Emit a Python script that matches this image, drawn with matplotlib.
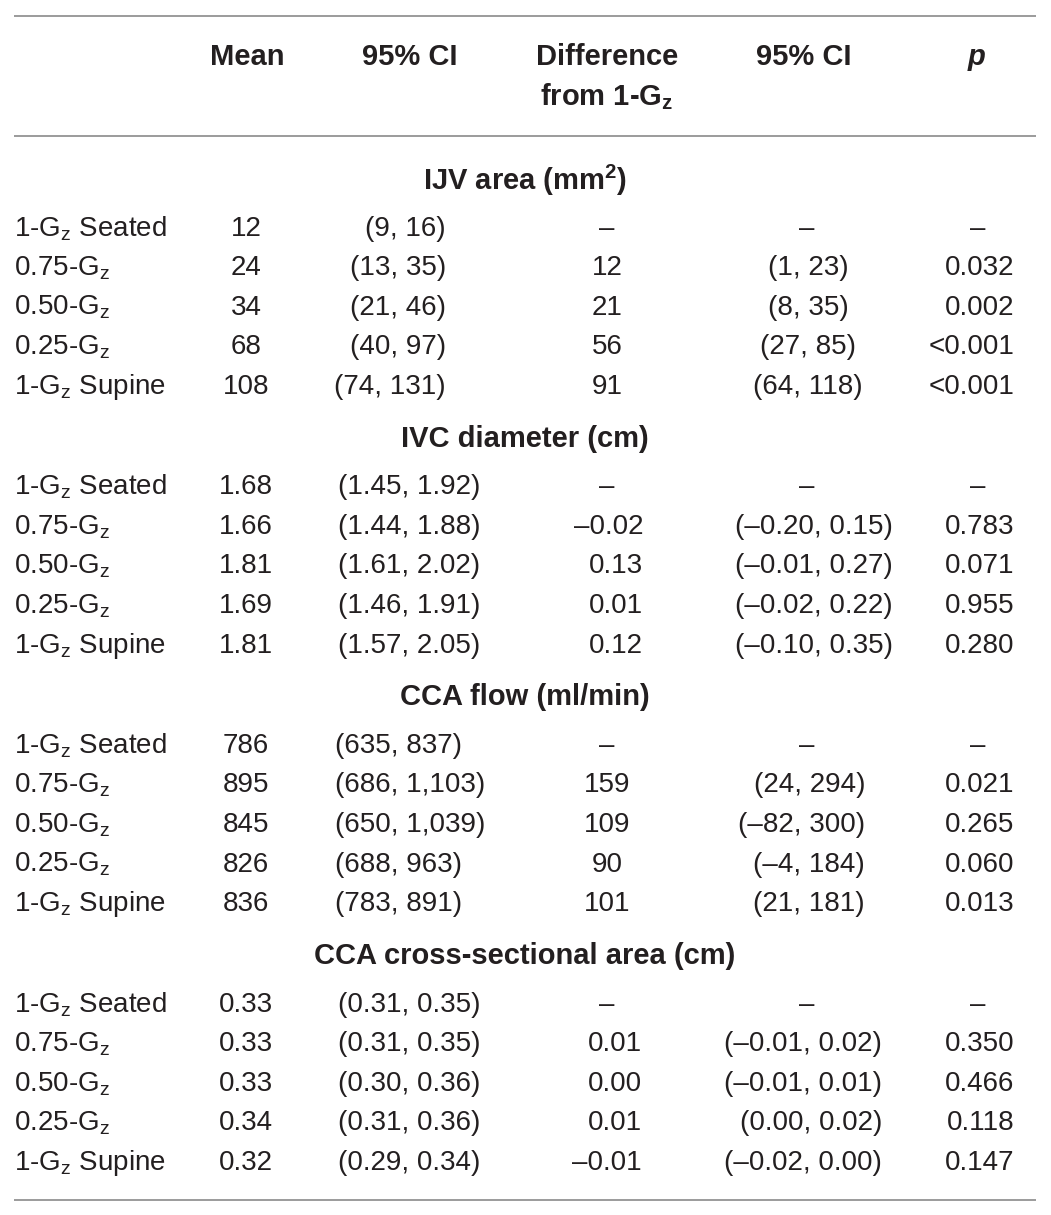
import matplotlib
matplotlib.use("Agg")
import matplotlib.pyplot as plt

plt.rcParams['font.family'] = ['Liberation Sans', 'DejaVu Sans']
plt.rcParams['mathtext.fontset'] = 'custom'
plt.rcParams['mathtext.rm'] = 'Liberation Sans'
plt.rcParams['mathtext.it'] = 'Liberation Sans:italic'
plt.rcParams['mathtext.bf'] = 'Liberation Sans:bold'

# ---------------- data ----------------
headers = ["Mean", "95% CI", "Difference\nfrom 1-G$_\\mathregular{z}$", "95% CI", "p"]
row_labels = ["1-G$_\\mathregular{z}$ Seated", "0.75-G$_\\mathregular{z}$", "0.50-G$_\\mathregular{z}$",
              "0.25-G$_\\mathregular{z}$", "1-G$_\\mathregular{z}$ Supine"]
sections = ["IJV area (mm$^\\mathregular{2}$)", "IVC diameter (cm)", "CCA flow (ml/min)",
            "CCA cross-sectional area (cm)"]

ijv_mean = ["12", "24", "34", "68", "108"]
ijv_ci = ["(9, 16)", "(13, 35)", "(21, 46)", "(40, 97)", "(74, 131)"]
ijv_diff = ["–", "12", "21", "56", "91"]
ijv_dci = ["–", "(1, 23)", "(8, 35)", "(27, 85)", "(64, 118)"]
ijv_p = ["–", "0.032", "0.002", "<0.001", "<0.001"]

ivc_mean = ["1.68", "1.66", "1.81", "1.69", "1.81"]
ivc_ci = ["(1.45, 1.92)", "(1.44, 1.88)", "(1.61, 2.02)", "(1.46, 1.91)", "(1.57, 2.05)"]
ivc_diff = ["–", "–0.02", "0.13", "0.01", "0.12"]
ivc_dci = ["–", "(–0.20, 0.15)", "(–0.01, 0.27)", "(–0.02, 0.22)", "(–0.10, 0.35)"]
ivc_p = ["–", "0.783", "0.071", "0.955", "0.280"]

flow_mean = ["786", "895", "845", "826", "836"]
flow_ci = ["(635, 837)", "(686, 1,103)", "(650, 1,039)", "(688, 963)", "(783, 891)"]
flow_diff = ["–", "159", "109", "90", "101"]
flow_dci = ["–", "(24, 294)", "(–82, 300)", "(–4, 184)", "(21, 181)"]
flow_p = ["–", "0.021", "0.265", "0.060", "0.013"]

csa_mean = ["0.33", "0.33", "0.33", "0.34", "0.32"]
csa_ci = ["(0.31, 0.35)", "(0.31, 0.35)", "(0.30, 0.36)", "(0.31, 0.36)", "(0.29, 0.34)"]
csa_diff = ["–", "0.01", "0.00", "0.01", "–0.01"]
csa_dci = ["–", "(–0.01, 0.02)", "(–0.01, 0.01)", "(0.00, 0.02)", "(–0.02, 0.00)"]
csa_p = ["–", "0.350", "0.466", "0.118", "0.147"]

section_data = [
    [ijv_mean, ijv_ci, ijv_diff, ijv_dci, ijv_p],
    [ivc_mean, ivc_ci, ivc_diff, ivc_dci, ivc_p],
    [flow_mean, flow_ci, flow_diff, flow_dci, flow_p],
    [csa_mean, csa_ci, csa_diff, csa_dci, csa_p],
]

# ---------------- layout / style ----------------
W, H = 1051, 1215
fig = plt.figure(figsize=(W / 100, H / 100), dpi=100)
ax = fig.add_axes([0, 0, 1, 1])
ax.set_xlim(0, W)
ax.set_ylim(H, 0)
ax.axis('off')

TXT = '#231f20'
LINE = '#808080'
FS = 20
FSB = 21
x0, x1 = 14, 1036

# per section column alignment: (x, ha)
col_align = [
    [(246, 'center'), (446, 'right'), (607, 'center'), (808, 'center'), (1014, 'right')],
    [(246, 'center'), (338, 'left'), (643, 'right'), (893, 'right'), (1014, 'right')],
    [(246, 'center'), (335, 'left'), (607, 'center'), (865, 'right'), (1014, 'right')],
    [(246, 'center'), (338, 'left'), (642, 'right'), (882, 'right'), (1014, 'right')],
]
dash_x = [246, 400, 607, 807, 978]

# rules
for y in (16, 136, 1200):
    ax.plot([x0, x1], [y, y], color=LINE, lw=1.1, solid_capstyle='butt')

# headers
head_x = [247, 410, 607, 804, 977]
for i, h in enumerate(headers):
    if i == 2:
        ax.text(head_x[i], 57, "Difference", ha='center', va='center', fontsize=FSB,
                fontweight='bold', color=TXT)
        ax.text(head_x[i], 97, "from 1-G$_\\mathregular{z}$", ha='center', va='center',
                fontsize=FSB, fontweight='bold', color=TXT)
    elif i == 4:
        ax.text(head_x[i], 57, h, ha='center', va='center', fontsize=FSB,
                fontweight='bold', fontstyle='italic', color=TXT)
    else:
        ax.text(head_x[i], 57, h, ha='center', va='center', fontsize=FSB,
                fontweight='bold', color=TXT)

sec_y0 = 180
sec_step = 258.7
row_off = 48.5
row_step = 39.6
for s, title in enumerate(sections):
    ys = sec_y0 + s * sec_step
    ax.text((x0 + x1) / 2, ys, title, ha='center', va='center', fontsize=FSB,
            fontweight='bold', color=TXT)
    cols = section_data[s]
    for r in range(len(row_labels)):
        yr = ys + row_off + r * row_step
        ax.text(x0, yr, row_labels[r], ha='left', va='center', fontsize=FS, color=TXT)
        for c, col in enumerate(cols):
            val = col[r]
            if val == "–" and c > 0:
                ax.text(dash_x[c], yr, val, ha='center', va='center', fontsize=FS, color=TXT)
            else:
                xx, ha = col_align[s][c]
                ax.text(xx, yr, val, ha=ha, va='center', fontsize=FS, color=TXT)

fig.savefig("out.png", dpi=100, facecolor='white')
